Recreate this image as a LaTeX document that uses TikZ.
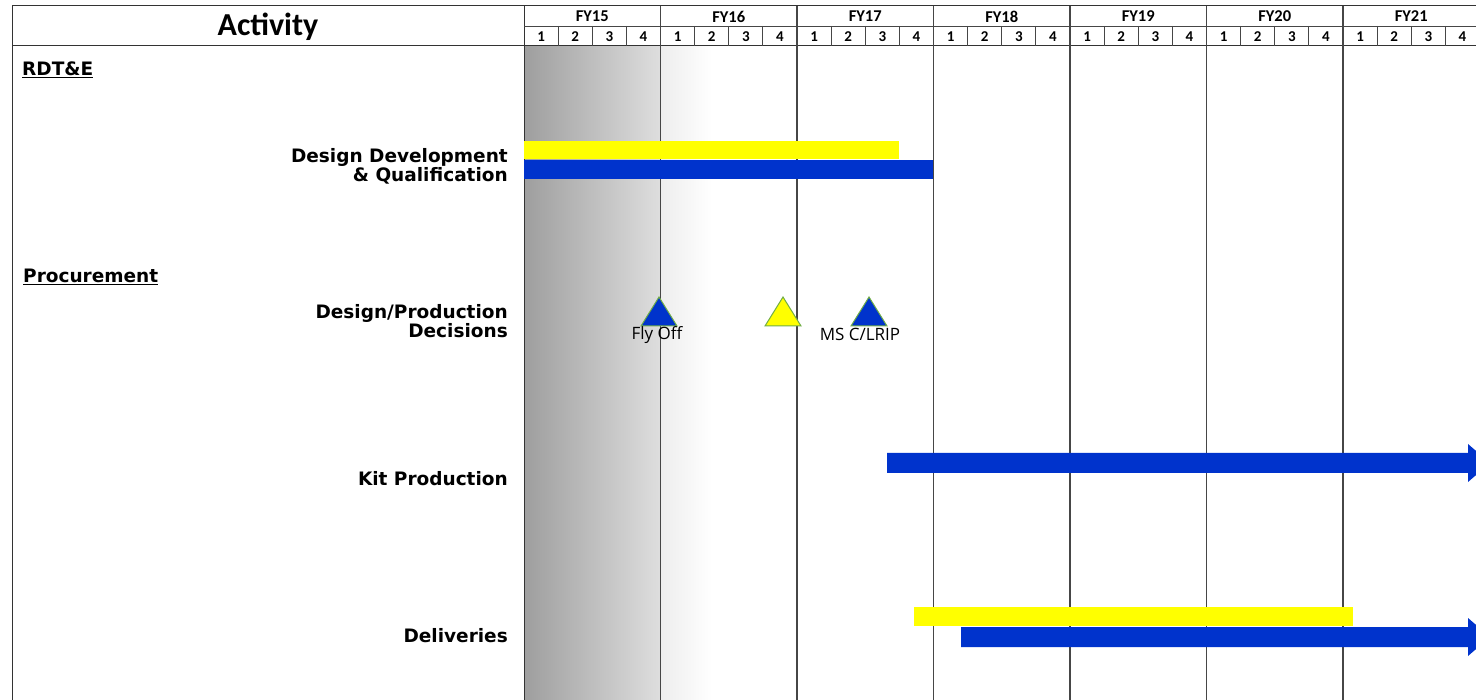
\documentclass[tikz,border=0pt]{standalone}
\usepackage{fontspec}
\setmainfont{Carlito}
\newfontfamily\rowfont{DejaVu Sans}
\newfontfamily\markfont{Open Sans}
\usepackage{tikz}
\usetikzlibrary{positioning}
\usepackage{xcolor}
\definecolor{barblue}{RGB}{0, 51, 204}
\definecolor{baryellow}{RGB}{255, 255, 0}
\definecolor{gridgray}{RGB}{70, 70, 70}
\definecolor{markedge}{RGB}{112, 173, 71}

\begin{document}
\begin{tikzpicture}[
    x=1pt, y=-1pt,
    frame/.style={draw=black!80, line width=1pt},
    yearline/.style={draw=gridgray, line width=1.8pt},
    qline/.style={draw=gridgray, line width=0.8pt},
    yearlabel/.style={font=\fontsize{16.5}{18}\selectfont\bfseries, inner sep=0pt},
    qlabel/.style={font=\fontsize{15}{16}\selectfont\bfseries, inner sep=0pt},
    rowlabel/.style={font=\rowfont\bfseries\fontsize{18.5}{19}\selectfont, align=right, inner sep=0pt},
    section/.style={font=\rowfont\bfseries\fontsize{18.5}{19}\selectfont, inner sep=0pt},
    marklabel/.style={font=\markfont\fontsize{17}{19}\selectfont, inner sep=0pt},
    plan/.style={fill=baryellow},
    actual/.style={fill=barblue}
]
    \clip (0,0) rectangle (1476,700);

    % shaded past period
    \shade[left color=black!38, right color=black!13] (524,46) rectangle (660,700);
    \shade[left color=black!7, right color=white] (660,46) rectangle (712,700);

    % header frame
    \draw[frame] (12,700) -- (12,6) -- (1480,6);
    \draw[frame] (12,46) -- (1480,46);
    \draw[frame] (524,6) -- (524,700);
    \draw[qline] (524,26) -- (1480,26);
    \node[font=\fontsize{32}{34}\selectfont\bfseries] (activity) at (268,27) {Activity};

    \foreach \yr [count=\i from 0] in {15,...,21} {
        \node[yearlabel] (fy\yr) at ({592.25+136.5*\i},16.5) {FY\yr};
        \draw[yearline] ({660.5+136.5*\i},6) -- ({660.5+136.5*\i},700);
        \foreach \q in {1,...,4} {
            \node[qlabel] (q\yr\q) at ({524+136.5*\i+34.125*(\q-0.5)},36.5) {\q};
            \draw[qline] ({524+136.5*\i+34.125*\q},26) -- ({524+136.5*\i+34.125*\q},46);
        }
    }

    % activity labels
    \node[section, anchor=west] (rdte) at (22,70) {\underline{RDT\&E}};
    \node[section, anchor=west] (procure) at (23,277) {\underline{Procurement}};
    \node[rowlabel, anchor=east] (design) at (508,166) {Design Development\\\& Qualification};
    \node[rowlabel, anchor=east] (decisions) at (508,321) {Design/Production\\Decisions};
    \node[rowlabel, anchor=east] (kit) at (508,479) {Kit Production};
    \node[rowlabel, anchor=east] (deliver) at (508,636) {Deliveries};

    % bars
    \fill[plan] (524,141) rectangle (899,159);
    \fill[actual] (524,160) rectangle (933,179);
    \fill[actual] (887,453) -- (1468,453) -- (1468,444) -- (1490,463)
        -- (1468,482) -- (1468,473) -- (887,473) -- cycle;
    \fill[plan] (914,607) rectangle (1353,626);
    \fill[actual] (961,627) -- (1468,627) -- (1468,618) -- (1490,637)
        -- (1468,656) -- (1468,647) -- (961,647) -- cycle;

    % milestones
    \foreach \cx/\col in {659/barblue, 783/baryellow, 869/barblue} {
        \draw[draw=markedge, line width=1pt, fill=\col]
            (\cx-18,326) -- (\cx,297) -- (\cx+18,326) -- cycle;
    }
    \node[marklabel] (flyoff) at (657,335) {Fly Off};
    \node[marklabel] (msc) at (860,334) {MS C/LRIP};
\end{tikzpicture}
\end{document}
